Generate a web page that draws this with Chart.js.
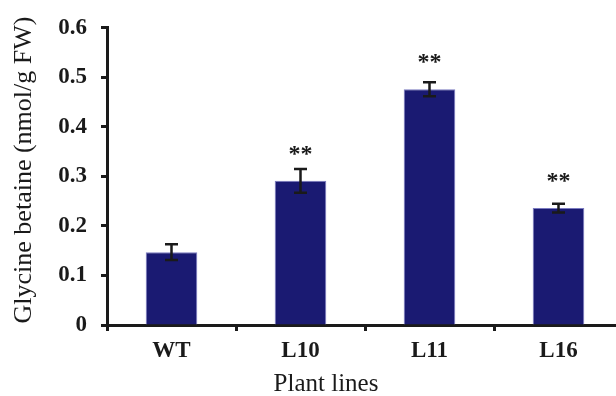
<!DOCTYPE html>
<html>
<head>
    <title>Glycine betaine</title>
    <script src="https://cdn.jsdelivr.net/npm/chart.js"></script>
    <style>
        body { margin: 0; overflow: hidden; background: #fff; }
        #wrap { width: 624px; height: 396px; }
    </style>
</head>
<body>
    <div id="wrap">
        <canvas id="chart" width="624" height="396"></canvas>
    </div>

    <script>
        // dati
        const lines = ['WT', 'L10', 'L11', 'L16'];
        const betaine = [0.147, 0.291, 0.476, 0.236];
        const errors = [0.016, 0.024, 0.014, 0.009];
        const signif = ['', '**', '**', '**'];
        const yTicks = [0, 0.1, 0.2, 0.3, 0.4, 0.5, 0.6];

        const ink = '#1a1a1a';
        const serif = "'Liberation Serif', 'Times New Roman', serif";

        // barre di errore, asterischi e titoli degli assi
        const extras = {
            id: 'extras',
            afterDatasetsDraw(chart) {
                const ctx = chart.ctx;
                const meta = chart.getDatasetMeta(0);
                const y = chart.scales.y;
                ctx.save();
                ctx.strokeStyle = ink;
                ctx.fillStyle = ink;
                ctx.lineWidth = 2.5;
                meta.data.forEach((bar, i) => {
                    const x = bar.x;
                    const top = y.getPixelForValue(betaine[i] + errors[i]);
                    const bot = y.getPixelForValue(betaine[i] - errors[i]);
                    ctx.beginPath();
                    ctx.moveTo(x, top); ctx.lineTo(x, bot);
                    ctx.moveTo(x - 6.5, top); ctx.lineTo(x + 6.5, top);
                    ctx.moveTo(x - 6.5, bot); ctx.lineTo(x + 6.5, bot);
                    ctx.stroke();
                    if (signif[i]) {
                        ctx.font = 'bold 24px ' + serif;
                        ctx.textAlign = 'center';
                        ctx.textBaseline = 'alphabetic';
                        ctx.fillText(signif[i], x, bar.y - 20);
                    }
                });
                ctx.restore();
            },
            afterDraw(chart) {
                const ctx = chart.ctx;
                ctx.save();
                ctx.fillStyle = ink;
                ctx.font = '25px ' + serif;
                ctx.textAlign = 'center';
                ctx.textBaseline = 'alphabetic';
                ctx.fillText('Plant lines', 326, 391);
                ctx.font = '26px ' + serif;
                ctx.translate(31, 170);
                ctx.rotate(-Math.PI / 2);
                ctx.fillText('Glycine betaine (nmol/g FW)', 0, 0);
                ctx.restore();
            }
        };

        const ctx = document.getElementById('chart').getContext('2d');

        new Chart(ctx, {
            type: 'bar',
            data: {
                labels: lines,
                datasets: [
                    {
                        data: betaine,
                        backgroundColor: '#1a1a72',
                        borderColor: '#7a7ac0',
                        borderWidth: 1,
                        barPercentage: 0.4,
                        categoryPercentage: 1.0,
                    },
                ],
            },
            options: {
                responsive: false,
                animation: false,
                devicePixelRatio: 1,
                layout: { padding: { top: 22, right: 1, left: 0, bottom: 0 } },
                plugins: {
                    legend: { display: false },
                    tooltip: { enabled: false },
                },
                scales: {
                    x: {
                        afterFit(scale) { scale.height = 71; },
                        border: { color: ink, width: 3 },
                        grid: {
                            drawOnChartArea: false,
                            drawTicks: true,
                            tickLength: 6,
                            tickWidth: 3,
                            tickColor: ink,
                        },
                        ticks: {
                            color: ink,
                            padding: 6,
                            font: { family: serif, size: 23, weight: 'bold' },
                        },
                    },
                    y: {
                        min: 0,
                        max: 0.6,
                        afterFit(scale) { scale.width = 107; },
                        afterBuildTicks(scale) {
                            scale.ticks = yTicks.map(v => ({ value: v }));
                        },
                        border: { color: ink, width: 3 },
                        grid: {
                            drawOnChartArea: false,
                            drawTicks: true,
                            tickLength: 6,
                            tickWidth: 3,
                            tickColor: ink,
                        },
                        ticks: {
                            color: ink,
                            padding: 14,
                            font: { family: serif, size: 23, weight: 'bold' },
                            callback: v => v === 0 ? '0' : v.toFixed(1),
                        },
                    },
                },
            },
            plugins: [extras],
        });
    </script>
</body>
</html>
